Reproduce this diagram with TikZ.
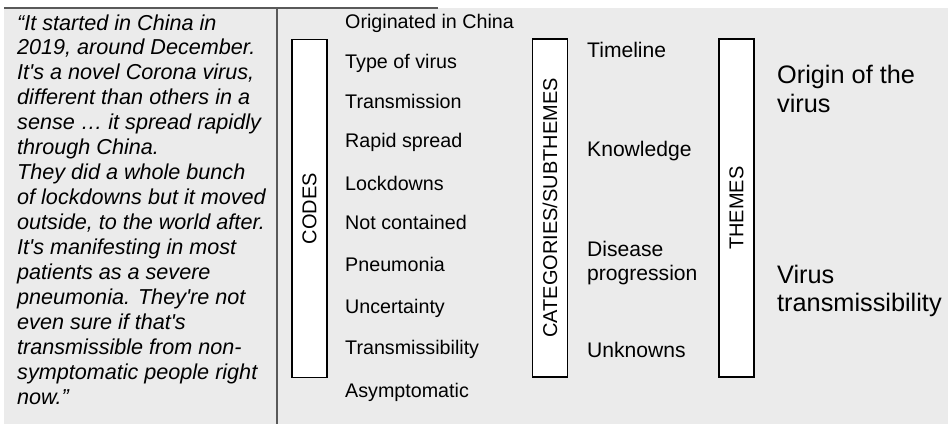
\documentclass[tikz,border=0pt]{standalone}
\usepackage{fontspec}
\setmainfont{Liberation Sans}
\newcommand{\ap}{\textquotesingle}
\begin{document}
\begin{tikzpicture}[x=1pt,y=-1pt,
  quote/.style={anchor=base west,inner sep=0pt,font=\fontsize{21.6}{26}\selectfont\itshape},
  code/.style={anchor=base west,inner sep=0pt,font=\fontsize{19.7}{23}\selectfont},
  cat/.style={anchor=base west,inner sep=0pt,font=\fontsize{21.1}{24}\selectfont},
  theme/.style={anchor=base west,inner sep=0pt,font=\fontsize{25.3}{29}\selectfont},
  vbox/.style={draw=black,line width=1.3pt,fill=white,minimum width=35pt,minimum height=338pt,inner sep=0pt},
  vlabel/.style={rotate=90,inner sep=0pt,font=\fontsize{20}{24}\selectfont},
  frame/.style={draw=black!65,line width=1.8pt}]
\useasboundingbox (0,0) rectangle (948,424);
\fill[white] (0,0) rectangle (948,424);
\fill[black!8] (4,8) rectangle (948,424);
\coordinate (tl) at (4,8);
\coordinate (tr) at (438,8);
\coordinate (vt) at (277,8);
\coordinate (vb) at (277,424);
\draw[frame] (tl) -- (tr);
\draw[frame,line width=1.4pt] (vt) -- (vb);
% quote
\foreach \t [count=\i] in {{``It started in China in},{2019, around December.},{It\ap s a novel Corona virus,},{different than others in a},{sense \dots\ it spread rapidly},{through China.},{They did a whole bunch},{of lockdowns but it moved},{outside, to the world after.},{It\ap s manifesting in most},{patients as a severe},{pneumonia. They\ap re not},{even sure if that\ap s},{transmissible from non-},{symptomatic people right},{now.''}}
  \node[quote] (q\i) at (17,{30+(\i-1)*24.95}) {\t};
% boxes
\node[vbox] (codesbox) at (309.5,208.5) {};
\node[vlabel] (codes) at (codesbox.center) {CODES};
\node[vbox] (catbox) at (550,208) {};
\node[vlabel] (cats) at (catbox.center) {CATEGORIES/SUBTHEMES};
\node[vbox] (themebox) at (736.5,208) {};
\node[vlabel] (themes) at (themebox.center) {THEMES};
% codes
\node[code] (c1) at (345,28) {Originated in China};
\node[code] (c2) at (345,68) {Type of virus};
\node[code] (c3) at (345,108) {Transmission};
\node[code] (c4) at (345,147) {Rapid spread};
\node[code] (c5) at (345,190) {Lockdowns};
\node[code] (c6) at (345,229) {Not contained};
\node[code] (c7) at (345,271) {Pneumonia};
\node[code] (c8) at (345,313) {Uncertainty};
\node[code] (c9) at (345,354) {Transmissibility};
\node[code] (c10) at (345,397) {Asymptomatic};
% categories
\node[cat] (k1) at (587,57) {Timeline};
\node[cat] (k2) at (587,156) {Knowledge};
\node[cat] (k3) at (587,256) {Disease};
\node[cat] (k3b) at (587,280) {progression};
\node[cat] (k4) at (587,357) {Unknowns};
% themes
\node[theme] (t1) at (777,83) {Origin of the};
\node[theme] (t1b) at (777,112) {virus};
\node[theme] (t2) at (777,283) {Virus};
\node[theme] (t2b) at (777,311) {transmissibility};
\end{tikzpicture}
\end{document}
